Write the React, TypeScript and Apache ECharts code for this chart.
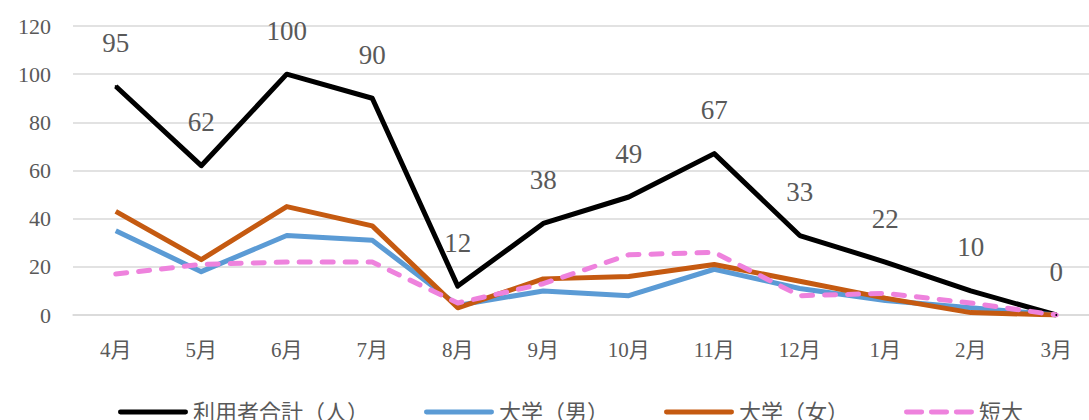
import React, { useEffect, useRef } from "react";
import * as echarts from "echarts";

const months = ["4月", "5月", "6月", "7月", "8月", "9月", "10月", "11月", "12月", "1月", "2月", "3月"];
const totalUsers = [95, 62, 100, 90, 12, 38, 49, 67, 33, 22, 10, 0];
const univMale = [35, 18, 33, 31, 4, 10, 8, 19, 11, 6, 3, 0];
const univFemale = [43, 23, 45, 37, 3, 15, 16, 21, 14, 7, 1, 0];
const juniorCollege = [17, 21, 22, 22, 5, 13, 25, 26, 8, 9, 5, 0];
const seriesNames = ["利用者合計（人）", "大学（男）", "大学（女）", "短大"];

const FONT = '"Liberation Serif", "Noto Sans CJK JP", serif';
const GRAY = "#595959";
const GRID = "#D9D9D9";
const DASH_ICON = "path://M2,0H18A2,2 0 0 1 18,5H2A2,2 0 0 1 2,0ZM28,0H44A2,2 0 0 1 44,5H28A2,2 0 0 1 28,0ZM54,0H70A2,2 0 0 1 70,5H54A2,2 0 0 1 54,0Z";
const LINE_ICON = "path://M2,0H70A2,2 0 0 1 70,5H2A2,2 0 0 1 2,0Z";

export default function App() {
  const ref = useRef<HTMLDivElement>(null);
  useEffect(() => {
    if (!ref.current) return;
    const chart = echarts.init(ref.current, undefined, { renderer: "svg" });
    const lineBase = (color: string, dashed = false) => ({
      color,
      width: 5,
      join: "round" as const,
      cap: dashed ? ("round" as const) : ("butt" as const),
      type: dashed ? [11, 12] : "solid",
    });
    chart.setOption({
      animation: false,
      backgroundColor: "#ffffff",
      grid: { left: 73, top: 26, width: 1026, height: 289, containLabel: false, outerBoundsMode: "none" },
      legend: {
        left: 113,
        top: 396,
        itemWidth: 70,
        itemHeight: 5,
        itemGap: 55,
        textStyle: { color: GRAY, fontSize: 22, fontFamily: FONT },
        itemStyle: { borderWidth: 0 },
        data: [
          { name: seriesNames[0], icon: LINE_ICON },
          { name: seriesNames[1], icon: LINE_ICON },
          { name: seriesNames[2], icon: LINE_ICON },
          { name: seriesNames[3], icon: DASH_ICON },
        ],
      },
      xAxis: {
        type: "category",
        data: months,
        boundaryGap: true,
        axisTick: { show: false },
        axisLine: { lineStyle: { color: GRID, width: 1.5 } },
        axisLabel: { color: GRAY, fontSize: 21, fontFamily: FONT, margin: 24 },
      },
      yAxis: {
        type: "value",
        min: 0,
        max: 120,
        interval: 20,
        axisLine: { show: false },
        axisTick: { show: false },
        splitLine: { lineStyle: { color: GRID, width: 1.5 } },
        axisLabel: { color: GRAY, fontSize: 22, fontFamily: FONT, margin: 22 },
      },
      series: [
        {
          name: seriesNames[0],
          type: "line",
          data: totalUsers,
          symbol: "circle",
          symbolSize: 2,
          showSymbol: true,
          color: "#000000",
          lineStyle: lineBase("#000000"),
          label: {
            show: true,
            position: "top",
            distance: 29,
            color: GRAY,
            fontSize: 27,
            fontFamily: FONT,
          },
        },
        {
          name: seriesNames[1],
          type: "line",
          data: univMale,
          symbol: "none",
          color: "#5B9BD5",
          lineStyle: lineBase("#5B9BD5"),
        },
        {
          name: seriesNames[2],
          type: "line",
          data: univFemale,
          symbol: "none",
          color: "#C55A11",
          lineStyle: lineBase("#C55A11"),
        },
        {
          name: seriesNames[3],
          type: "line",
          data: juniorCollege,
          symbol: "none",
          color: "#EE82DD",
          lineStyle: lineBase("#EE82DD", true),
        },
      ],
    });
    return () => chart.dispose();
  }, []);
  return (
    <div
      ref={ref}
      style={{ position: "absolute", left: 0, top: 0, width: 1089, height: 420, background: "#fff" }}
    />
  );
}
